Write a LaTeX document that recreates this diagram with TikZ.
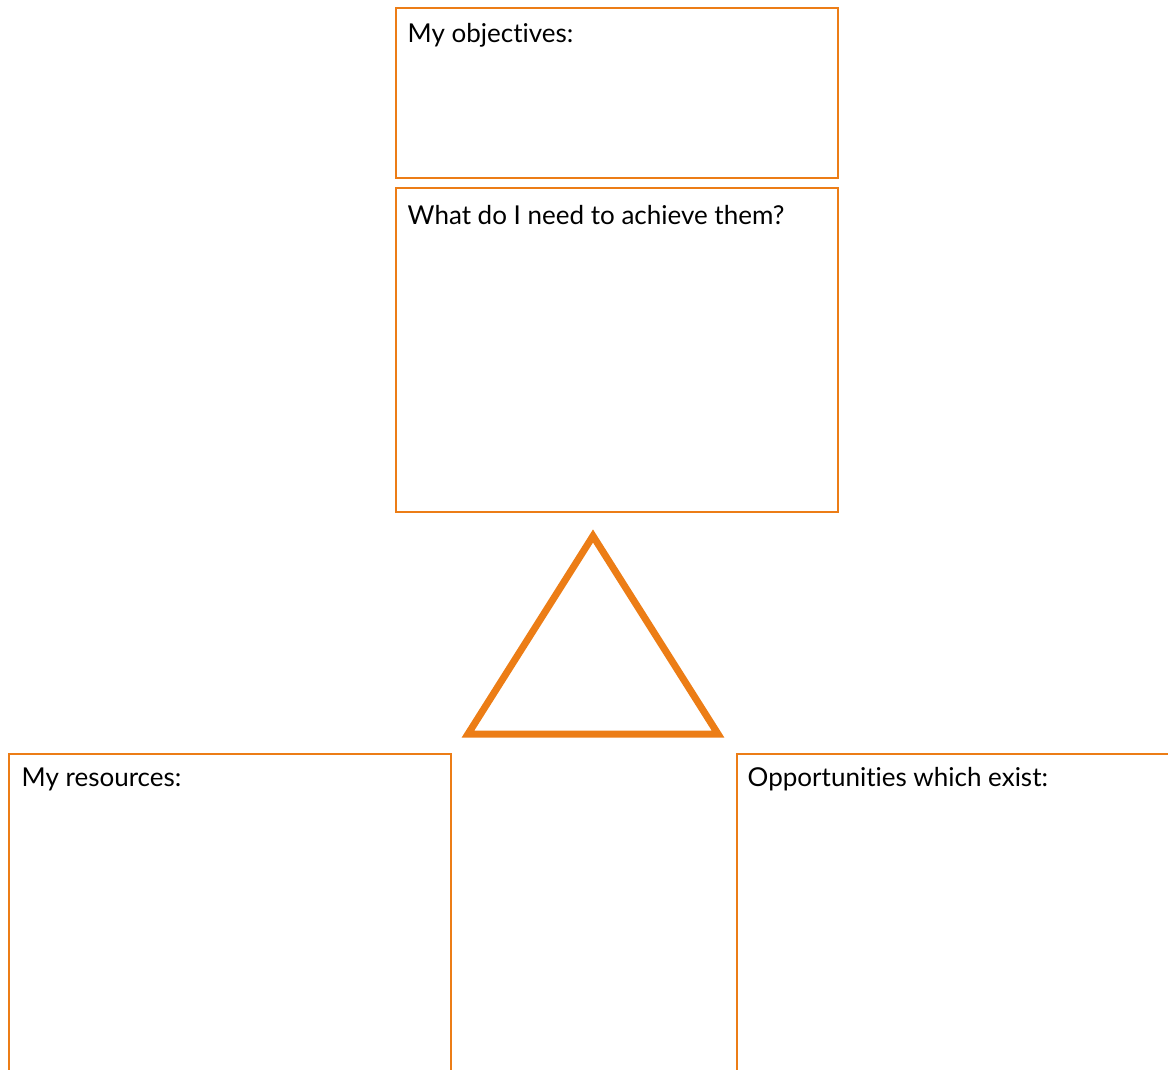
\documentclass[tikz,border=0pt]{standalone}
\usepackage{fontspec}
\setmainfont{Lato}[Ligatures={NoCommon}]
\definecolor{frame}{RGB}{236,125,22}
\begin{document}
\begin{tikzpicture}[x=1pt,y=-1pt,
  panel/.style={draw=frame, line width=2pt, rectangle, inner sep=0pt, anchor=north west},
  caption/.style={anchor=base west, inner sep=0pt, font=\fontsize{26}{30}\selectfont, text=black},
  tri/.style={draw=frame, line width=7pt, line join=miter}]
\useasboundingbox (0,0) rectangle (1168,1070);
\clip (0,0) rectangle (1168,1070);
% upper column of panels
\node[panel, minimum width=442pt, minimum height=170pt] (obj) at (394.5,7.5) {};
\node[panel, minimum width=442pt, minimum height=323pt] (need) at (394.5,187.5) {};
% lower panels run off the page
\node[panel, minimum width=442pt, minimum height=340pt] (res) at (7.5,752.5) {};
\node[panel, minimum width=460pt, minimum height=340pt] (opp) at (735.5,752.5) {};
% captions
\node[caption] (objt) at ([shift={(13,35)}]obj.north west) {My objectives:};
\node[caption] (needt) at ([shift={(13,37)}]need.north west) {What do I need to achieve them?};
\node[caption] (rest) at ([shift={(14,34)}]res.north west) {My resources:};
\node[caption] (oppt) at ([shift={(12,34)}]opp.north west) {Opportunities which exist:};
% central triangle
\coordinate (apex) at (593,536);
\coordinate (bl) at (468,734);
\coordinate (br) at (718,734);
\draw[tri] (apex) -- (br) -- (bl) -- cycle;
\end{tikzpicture}
\end{document}
